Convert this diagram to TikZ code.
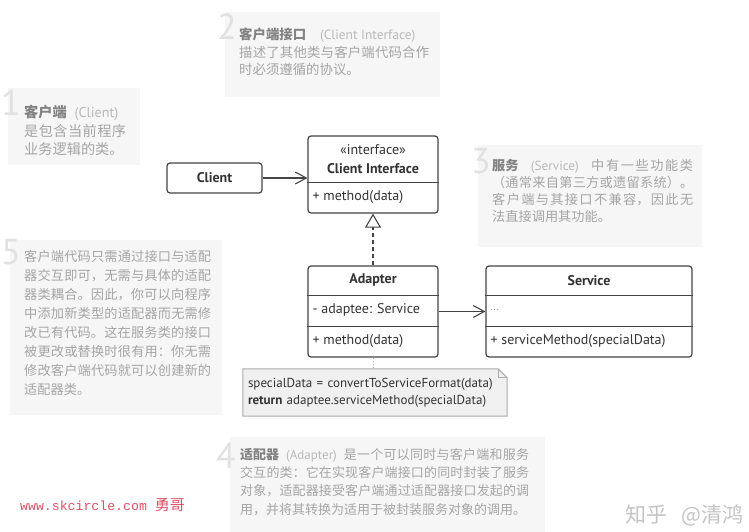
\documentclass[tikz,border=0pt]{standalone}
\usepackage{fontspec}
\setmainfont{PT Sans}
\newfontfamily\cjk{Noto Sans CJK SC}
\newfontfamily\webfont{Liberation Mono}
\usetikzlibrary{arrows.meta,backgrounds,calc}
\XeTeXlinebreaklocale "zh"
\XeTeXlinebreakskip=0pt plus 1pt
\definecolor{LineClr}{RGB}{68,68,68}
\definecolor{TextClr}{RGB}{51,51,51}
\definecolor{PanelClr}{RGB}{246,246,246}
\definecolor{BodyClr}{RGB}{165,165,165}
\definecolor{TitleClr}{RGB}{130,130,130}
\definecolor{ParenClr}{RGB}{185,185,185}
\definecolor{DigitClr}{RGB}{225,225,225}
\definecolor{NoteClr}{RGB}{240,240,240}
\definecolor{NoteLineClr}{RGB}{170,170,170}
\definecolor{WebClr}{RGB}{224,80,100}
\definecolor{MarkClr}{RGB}{195,195,195}
\newcommand\paneltitle[2]{\mbox{\bfseries\color{TitleClr}#1}{\color{ParenClr}\rmfamily\hspace{6pt plus 4pt}\mbox{(#2)}\hspace{6pt plus 4pt}}}

\begin{document}
\begin{tikzpicture}[x=1pt,y=-1pt,
  umlbox/.style={draw=LineClr,line width=1.2pt,fill=white,rounded corners=3pt,inner sep=0pt},
  umltext/.style={text=TextClr,inner sep=0pt,font=\fontsize{14}{16}\selectfont},
  umlname/.style={umltext,font=\bfseries\fontsize{14}{16}\selectfont},
  member/.style={umltext,anchor=west},
  divider/.style={draw=LineClr,line width=1.2pt},
  assoc/.style={draw=LineClr,line width=1.1pt,-{Straight Barb[length=11pt,width=12pt]}},
  realize/.style={draw=LineClr,line width=1.1pt,dash pattern=on 4pt off 3pt,-{Triangle[open,length=14pt,width=16pt]}},
  noteline/.style={draw=NoteLineClr,line width=1pt,dash pattern=on 1pt off 2pt},
  notebox/.style={fill=NoteClr,draw=NoteLineClr,line width=1pt},
  notetext/.style={text=TextClr,align=left,font=\fontsize{13}{17}\selectfont,text width=254pt,inner xsep=5pt,inner ysep=0pt,minimum width=264pt,minimum height=47pt},
  panel/.style={fill=PanelClr},
  paneltext/.style={text=BodyClr,align=justify,anchor=north west,inner sep=0pt},
  digit/.style={text=DigitClr,anchor=base west,inner sep=0pt,font=\fontsize{36}{36}\selectfont}]

\useasboundingbox (0,0) rectangle (749,532);

\fill[panel] (8,88) rectangle (140,165);
\fill[panel] (225,12) rectangle (440,97);
\fill[panel] (478,145) rectangle (702,247);
\fill[panel] (10,240) rectangle (222,415);
\fill[panel] (230,437) rectangle (545,532);

\node[digit] (num1) at (1,116) {1};
\node[digit] (num2) at (217,40) {2};
\node[digit] (num3) at (471,173) {3};
\node[digit] (num4) at (216,468) {4};
\node[digit] (num5) at (1,264) {5};

\node[paneltext,text width=102pt,font=\cjk\fontsize{14.2}{18.5}\selectfont] (txt1) at (24,105)
  {\paneltitle{客户端}{Client}\linebreak 是包含当前程序\linebreak 业务逻辑的类。};
\node[paneltext,text width=190pt,font=\cjk\fontsize{13.4}{17.5}\selectfont] (txt2) at (239,28)
  {\paneltitle{客户端接口}{Client Interface}\linebreak 描述了其他类与客户端代码合作\linebreak 时必须遵循的协议。};
\node[paneltext,text width=201pt,font=\cjk\fontsize{13.2}{17}\selectfont] (txt3) at (492,159)
  {\paneltitle{服务}{Service}中有一些功能类\linebreak （通常来自第三方或遗留系统）。\linebreak 客户端与其接口不兼容，因此无\linebreak 法直接调用其功能。};
\node[paneltext,text width=289pt,font=\cjk\fontsize{13}{18.3}\selectfont] (txt4) at (240,448)
  {\paneltitle{适配器}{Adapter}是一个可以同时与客户端和服务\linebreak 交互的类：它在实现客户端接口的同时封装了服务\linebreak 对象，适配器接受客户端通过适配器接口发起的调\linebreak 用，并将其转换为适用于被封装服务对象的调用。};
\node[paneltext,text width=187pt,font=\cjk\fontsize{13.2}{19}\selectfont] (txt5) at (24,250)
  {客户端代码只需通过接口与适配\linebreak 器交互即可，无需与具体的适配\linebreak 器类耦合。因此，你可以向程序\linebreak 中添加新类型的适配器而无需修\linebreak 改已有代码。这在服务类的接口\linebreak 被更改或替换时很有用：你无需\linebreak 修改客户端代码就可以创建新的\linebreak 适配器类。};

\node[umlbox,umlname,minimum width=95pt,minimum height=30pt] (client) at (214.5,178) {Client};

\node[umlbox,minimum width=130pt,minimum height=77pt] (iface) at (373,174.5) {};
\draw[divider] ([yshift=-47pt]iface.north west) -- ([yshift=-47pt]iface.north east);
\node[umltext] (ifacetag) at ([yshift=-14pt]iface.north) {«interface»};
\node[umlname] (ifacename) at ([yshift=-33pt]iface.north) {Client Interface};
\node[member] (ifaceop) at ([xshift=5pt,yshift=-62pt]iface.north west) {+ method(data)};

\node[umlbox,minimum width=130pt,minimum height=91pt] (adapter) at (373,311.5) {};
\draw[divider] ([yshift=-30pt]adapter.north west) -- ([yshift=-30pt]adapter.north east);
\draw[divider] ([yshift=-61pt]adapter.north west) -- ([yshift=-61pt]adapter.north east);
\node[umlname] (adaptername) at ([yshift=-15pt]adapter.north) {Adapter};
\node[member] (adapterfield) at ([xshift=5pt,yshift=-45pt]adapter.north west) {- adaptee: Service};
\node[member] (adapterop) at ([xshift=5pt,yshift=-76pt]adapter.north west) {+ method(data)};

\node[umlbox,minimum width=206pt,minimum height=91pt] (service) at (589,311.5) {};
\draw[divider] ([yshift=-30pt]service.north west) -- ([yshift=-30pt]service.north east);
\draw[divider] ([yshift=-61pt]service.north west) -- ([yshift=-61pt]service.north east);
\node[umlname] (servicename) at ([yshift=-15pt]service.north) {Service};
\node[member,text=BodyClr,font=\fontsize{11}{12}\selectfont] (servicefield) at ([xshift=5pt,yshift=-45pt]service.north west) {...};
\node[member] (serviceop) at ([xshift=5pt,yshift=-76pt]service.north west) {+ serviceMethod(specialData)};

\draw[assoc] (client.east) -- (client.east -| iface.west);
\draw[realize] (adapter.north) -- (iface.south);
\draw[assoc] (adapter.east) -- (service.west);

\node[notetext] (note) at (375,392.5)
  {specialData = convertToServiceFormat(data)\\\textbf{return} adaptee.serviceMethod(specialData)};
\begin{scope}[on background layer]
\filldraw[notebox] (note.north west) -- ([xshift=-9pt]note.north east) -- ([yshift=-9pt]note.north east)
  -- (note.south east) -- (note.south west) -- cycle;
\end{scope}
\draw[draw=NoteLineClr,line width=1pt] ([xshift=-9pt]note.north east) -- ([xshift=-9pt,yshift=-9pt]note.north east)
  -- ([yshift=-9pt]note.north east);
\draw[noteline] (adapter.south) -- (adapter.south |- note.north);

\node[text=WebClr,anchor=west,inner sep=0pt,font=\webfont\fontsize{13.2}{14}\selectfont] (web) at (20,505)
  {www.skcircle.com {\cjk\fontsize{15}{15}\selectfont 勇哥}};
\node[text=MarkClr,anchor=west,inner sep=0pt,font=\cjk\fontsize{21}{21}\selectfont] (zhihu) at (625,515) {知乎\hspace{0.7em}@清鸿};

\end{tikzpicture}
\end{document}
